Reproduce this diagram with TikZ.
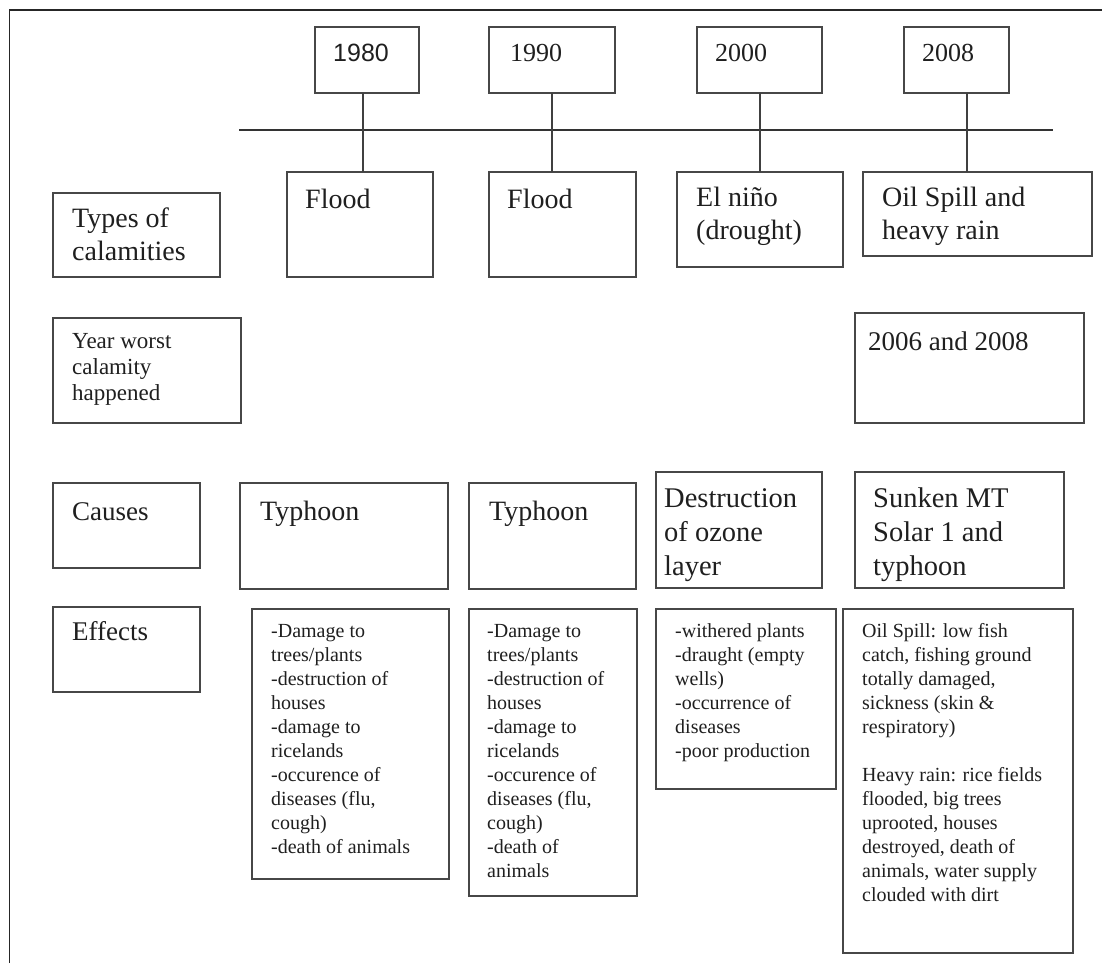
\documentclass[tikz,border=0pt]{standalone}
\usepackage{fontspec}
\setmainfont{Liberation Serif}
\newfontfamily\arialfont{Liberation Sans}
\usetikzlibrary{calc}
\begin{document}
\begin{tikzpicture}[x=1pt,y=-1pt,
  box/.style={draw=black!72, line width=1.3pt, anchor=north west, inner sep=0pt, outer sep=0pt},
  txt/.style={anchor=north west, inner sep=0pt, align=left, text=black!88},
  conn/.style={draw=black!75, line width=1.8pt},
  fyear/.style={font=\fontsize{26}{31}\selectfont},
  fbig/.style={font=\fontsize{28}{33}\selectfont},
  fbigb/.style={font=\fontsize{28.5}{34}\selectfont},
  fmid/.style={font=\fontsize{27}{31}\selectfont},
  fsmall/.style={font=\fontsize{23}{26}\selectfont},
  feff/.style={font=\fontsize{20}{24}\selectfont}]
\useasboundingbox (0,0) rectangle (1102,963);
\fill[white] (0,0) rectangle (1102,963);
% frame
\coordinate (frA) at (9.5,963);
\coordinate (frB) at (9.5,10);
\coordinate (frC) at (1102,10);
\draw[line width=1.5pt, black!85] (frA) -- (frB) -- (frC);
% timeline
\coordinate (tlA) at (239,130);
\coordinate (tlB) at (1053,130);
\draw[line width=2.2pt, black!80] (tlA) -- (tlB);

% year boxes
\node[box, minimum width=104pt, minimum height=66pt] (y80) at (315,27) {};
\node[box, minimum width=126pt, minimum height=66pt] (y90) at (489,27) {};
\node[box, minimum width=125pt, minimum height=66pt] (y00) at (697,27) {};
\node[box, minimum width=105pt, minimum height=66pt] (y08) at (904,27) {};
\node[txt, font=\arialfont\fontsize{25}{30}\selectfont] (y80t) at ($(y80.north west)+(18,13)$) {\strut 1980};
\node[txt, fyear] (y90t) at ($(y90.north west)+(21,12.3)$) {\strut 1990};
\node[txt, fyear] (y00t) at ($(y00.north west)+(18,12.3)$) {\strut 2000};
\node[txt, fyear] (y08t) at ($(y08.north west)+(18,12.3)$) {\strut 2008};

% row labels
\node[box, minimum width=167pt, minimum height=84pt] (types) at (53,193) {};
\node[txt, fbig] (typest) at ($(types.north west)+(19,10.9)$) {\strut Types of\\calamities};
\node[box, minimum width=188pt, minimum height=105pt] (yw) at (53,318) {};
\node[txt, fsmall] (ywt) at ($(yw.north west)+(19,11.8)$) {\strut Year worst\\calamity\\happened};
\node[box, minimum width=147pt, minimum height=85pt] (causes) at (53,483) {};
\node[txt, fmid] (causest) at ($(causes.north west)+(19,15.3)$) {\strut Causes};
\node[box, minimum width=147pt, minimum height=85pt] (efflab) at (53,607) {};
\node[txt, fmid] (efflabt) at ($(efflab.north west)+(19,11.3)$) {\strut Effects};

% calamities
\node[box, minimum width=146pt, minimum height=105pt] (fl80) at (287,172) {};
\node[box, minimum width=147pt, minimum height=105pt] (fl90) at (489,172) {};
\node[box, minimum width=166pt, minimum height=95pt] (eln) at (677,172) {};
\node[box, minimum width=229pt, minimum height=84pt] (oil) at (863,172) {};
\node[txt, fbig] (fl80t) at ($(fl80.north west)+(18,12.9)$) {\strut Flood};
\node[txt, fbig] (fl90t) at ($(fl90.north west)+(18,12.9)$) {\strut Flood};
\node[txt, fbig] (elnt) at ($(eln.north west)+(19,10.9)$) {\strut El niño\\(drought)};
\node[txt, fbig] (oilt) at ($(oil.north west)+(19,10.9)$) {\strut Oil Spill and\\heavy rain};

% connectors
\draw[conn] ([xshift=-4pt]y80.south) -- ([xshift=-4pt]y80.south |- fl80.north);
\draw[conn] (y90.south) -- (y90.south |- fl90.north);
\draw[conn] ([xshift=0.5pt]y00.south) -- ([xshift=0.5pt]y00.south |- eln.north);
\draw[conn] ([xshift=10.5pt]y08.south) -- ([xshift=10.5pt]y08.south |- oil.north);

% year worst
\node[box, minimum width=229pt, minimum height=110pt] (w0608) at (855,313) {};
\node[txt, font=\fontsize{27}{31}\selectfont] (w0608t) at ($(w0608.north west)+(13,15.3)$) {\strut 2006 and 2008};

% causes
\node[box, minimum width=208pt, minimum height=106pt] (ty80) at (240,483) {};
\node[box, minimum width=167pt, minimum height=106pt] (ty90) at (469,483) {};
\node[box, minimum width=166pt, minimum height=116pt] (ozone) at (656,472) {};
\node[box, minimum width=209pt, minimum height=116pt] (sunk) at (855,472) {};
\node[txt, fbig] (ty80t) at ($(ty80.north west)+(20,13.9)$) {\strut Typhoon};
\node[txt, fbig] (ty90t) at ($(ty90.north west)+(20,13.9)$) {\strut Typhoon};
\node[txt, fbigb] (ozonet) at ($(ozone.north west)+(8,11.2)$) {\strut Destruction\\of ozone\\layer};
\node[txt, fbigb] (sunkt) at ($(sunk.north west)+(18,11.2)$) {\strut Sunken MT\\Solar 1 and\\typhoon};

% effects
\node[box, minimum width=197pt, minimum height=270pt] (e80) at (252,609) {};
\node[box, minimum width=168pt, minimum height=287pt] (e90) at (469,609) {};
\node[box, minimum width=180pt, minimum height=180pt] (e00) at (656,609) {};
\node[box, minimum width=230pt, minimum height=344pt] (e08) at (843,609) {};
\node[txt, feff] (e80t) at ($(e80.north west)+(19,11.2)$) {\strut -Damage to\\trees/plants\\-destruction of\\houses\\-damage to\\ricelands\\-occurence of\\diseases (flu,\\cough)\\-death of animals};
\node[txt, feff] (e90t) at ($(e90.north west)+(18,11.2)$) {\strut -Damage to\\trees/plants\\-destruction of\\houses\\-damage to\\ricelands\\-occurence of\\diseases (flu,\\cough)\\-death of\\animals};
\node[txt, feff] (e00t) at ($(e00.north west)+(19,11.2)$) {\strut -withered plants\\-draught (empty\\wells)\\-occurrence of\\diseases\\-poor production};
\node[txt, feff] (e08t) at ($(e08.north west)+(19,11.2)$) {\strut Oil Spill: low fish\\catch, fishing ground\\totally damaged,\\sickness (skin \&\\respiratory)\\\strut\\Heavy rain: rice fields\\flooded, big trees\\uprooted, houses\\destroyed, death of\\animals, water supply\\clouded with dirt};
\end{tikzpicture}
\end{document}
